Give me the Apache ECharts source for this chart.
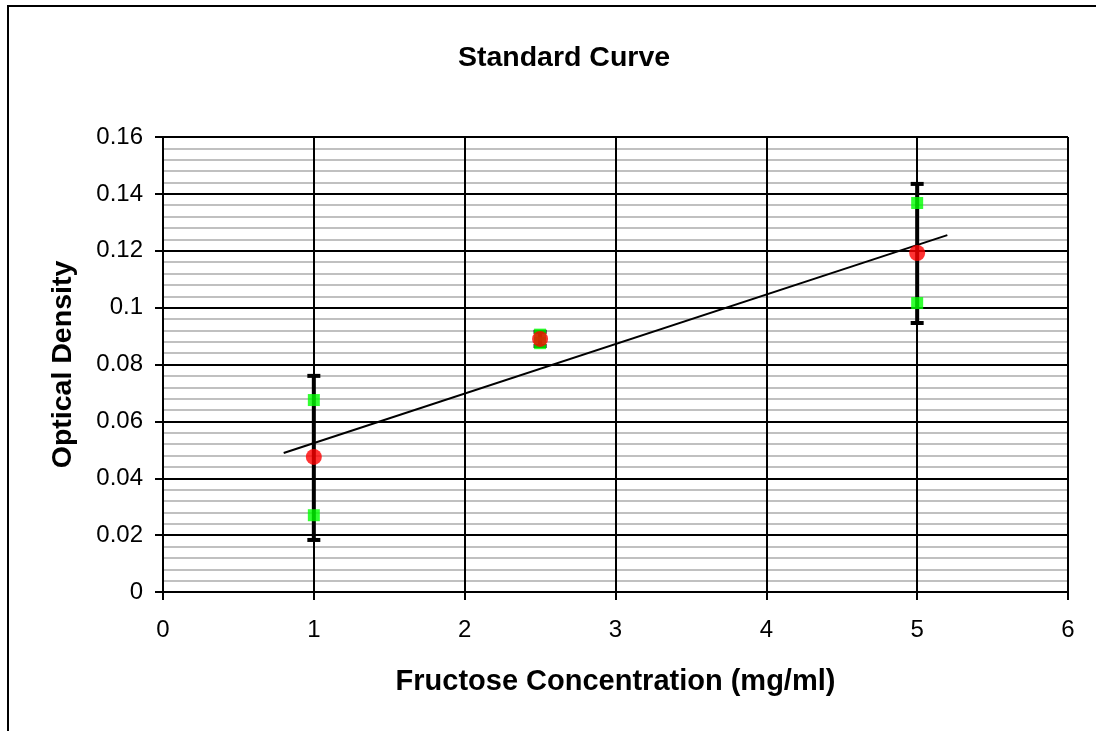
<!DOCTYPE html>
<html>
<head>
<meta charset="utf-8">
<script src="https://cdn.jsdelivr.net/npm/echarts@6/dist/echarts.min.js"></script>
<style>html,body{margin:0;padding:0;background:#fff}#c{width:1096px;height:731px}</style>
</head>
<body>
<div id="c"></div>
<script>
// Data
const concentrations = [1, 2.5, 5];
const meanOD = [0.0475, 0.089, 0.1192];
const replicateA = [0.0675, 0.0905, 0.1368];
const replicateB = [0.027, 0.0875, 0.1016];
const errLow = [0.0183, 0.0865, 0.0946];
const errHigh = [0.076, 0.0915, 0.1435];
const trendX = [0.8, 5.2];
const trendY = [0.0489, 0.1255];
const xTicks = [0, 1, 2, 3, 4, 5, 6];
const yTickLabels = ['0', '0.02', '0.04', '0.06', '0.08', '0.1', '0.12', '0.14', '0.16'];

const font = 'Liberation Sans, Arial, sans-serif';
const chart = echarts.init(document.getElementById('c'), null, {renderer: 'canvas'});

const replicates = [];
concentrations.forEach((x, i) => {
  replicates.push([x, replicateA[i]]);
  replicates.push([x, replicateB[i]]);
});

chart.setOption({
  animation: false,
  backgroundColor: '#fff',
  graphic: [{
    type: 'rect', shape: {x: 8, y: 6, width: 1200, height: 900},
    style: {fill: 'none', stroke: '#000', lineWidth: 2}, silent: true
  }],
  title: {
    text: 'Standard Curve', left: 559, top: 39, textAlign: 'center',
    textStyle: {fontFamily: font, fontSize: 28.5, fontWeight: 'bold', color: '#000'}
  },
  grid: {left: 163, right: 28, top: 137, bottom: 139, containLabel: false},
  xAxis: {
    type: 'value', min: 0, max: 6, interval: 1,
    name: 'Fructose Concentration (mg/ml)', nameLocation: 'middle', nameGap: 75,
    nameTextStyle: {fontFamily: font, fontSize: 29, fontWeight: 'bold', color: '#000'},
    axisLine: {show: true, lineStyle: {color: '#000', width: 2}},
    axisTick: {show: true, length: 8, lineStyle: {color: '#000', width: 2}},
    axisLabel: {fontFamily: font, fontSize: 24, color: '#000', margin: 26,
      formatter: v => xTicks.includes(v) ? String(v) : ''},
    splitLine: {show: true, lineStyle: {color: '#000', width: 2}}
  },
  yAxis: {
    type: 'value', min: 0, max: 0.16, interval: 0.02,
    name: 'Optical Density', nameLocation: 'middle', nameGap: 85,
    nameTextStyle: {fontFamily: font, fontSize: 28.5, fontWeight: 'bold', color: '#000'},
    axisLine: {show: true, lineStyle: {color: '#000', width: 2}},
    axisTick: {show: true, length: 8, lineStyle: {color: '#000', width: 2}},
    axisLabel: {fontFamily: font, fontSize: 24, color: '#000', margin: 20,
      formatter: v => yTickLabels[Math.round(v / 0.02)]},
    splitLine: {show: true, lineStyle: {color: '#000', width: 2}},
    minorTick: {show: false, splitNumber: 5},
    minorSplitLine: {show: true, lineStyle: {color: '#c0c0c0', width: 2}}
  },
  series: [
    {
      type: 'custom', z: 2,
      data: concentrations.map((x, i) => [x, errLow[i], errHigh[i]]),
      renderItem: (params, api) => {
        const lo = api.coord([api.value(0), api.value(1)]);
        const hi = api.coord([api.value(0), api.value(2)]);
        const w = 6.5;
        const style = {stroke: '#000', lineWidth: 4};
        return {type: 'group', children: [
          {type: 'line', shape: {x1: lo[0], y1: lo[1], x2: hi[0], y2: hi[1]}, style},
          {type: 'line', shape: {x1: lo[0] - w, y1: lo[1], x2: lo[0] + w, y2: lo[1]}, style: {stroke: '#000', lineWidth: 4}},
          {type: 'line', shape: {x1: hi[0] - w, y1: hi[1], x2: hi[0] + w, y2: hi[1]}, style: {stroke: '#000', lineWidth: 4}}
        ]};
      }
    },
    {
      type: 'line', z: 3, data: trendX.map((x, i) => [x, trendY[i]]),
      showSymbol: false, lineStyle: {color: '#000', width: 2}
    },
    {
      type: 'scatter', z: 4, data: replicates,
      symbol: 'rect', symbolSize: 12, itemStyle: {color: '#00ff00'}
    },
    {
      type: 'scatter', z: 5, data: concentrations.map((x, i) => [x, meanOD[i]]),
      symbol: 'circle', symbolSize: 16, itemStyle: {color: '#ff0000'}
    }
  ]
});
</script>
</body>
</html>
